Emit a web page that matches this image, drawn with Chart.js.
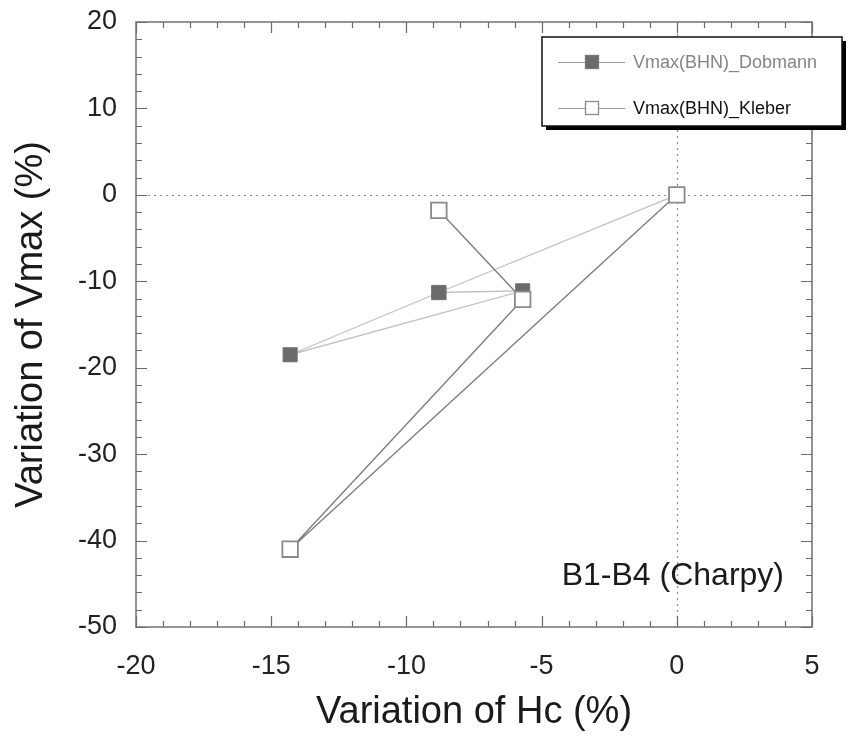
<!DOCTYPE html>
<html>
<head>
<meta charset="utf-8">
<script src="https://cdn.jsdelivr.net/npm/chart.js@4/dist/chart.umd.min.js"></script>
<style>
  html, body { margin: 0; padding: 0; background: #ffffff; }
  #c { display: block; }
</style>
</head>
<body>
<canvas id="c" width="849" height="741"></canvas>
<script>
// ---- data ----
const seriesNames = ['Vmax(BHN)_Dobmann', 'Vmax(BHN)_Kleber'];
const dobmannHc   = [0, -8.8, -14.3, -5.7, -8.8];
const dobmannVmax = [0, -11.3, -18.5, -11.1, -11.3];
const kleberHc    = [-8.8, -5.7, -14.3, 0];
const kleberVmax  = [-1.8, -12.1, -41.0, 0];
const xTickValues = [-20, -15, -10, -5, 0, 5];
const yTickValues = [20, 10, 0, -10, -20, -30, -40, -50];
const xTitle = 'Variation of Hc (%)';
const yTitle = 'Variation of Vmax (%)';
const annotationText = 'B1-B4 (Charpy)';

const toPts = (xs, ys) => xs.map((x, i) => ({ x: x, y: ys[i] }));
const FONT = "'Liberation Sans', Arial, Helvetica, sans-serif";

const framePlugin = {
  id: 'frame',
  beforeDatasetsDraw(chart) {
    const { ctx, chartArea: a, scales: { x, y } } = chart;
    ctx.save();
    ctx.strokeStyle = '#8a8a8a';
    ctx.lineWidth = 1.2;
    ctx.setLineDash([2, 4]);
    const x0 = Math.round(x.getPixelForValue(0)) + 0.5;
    const y0 = Math.round(y.getPixelForValue(0)) + 0.5;
    ctx.beginPath();
    ctx.moveTo(a.left, y0); ctx.lineTo(a.right, y0);
    ctx.moveTo(x0, a.top); ctx.lineTo(x0, a.bottom);
    ctx.stroke();
    ctx.setLineDash([]);

    // annotation text
    ctx.fillStyle = '#1a1a1a';
    ctx.font = '32px ' + FONT;
    ctx.textAlign = 'right';
    ctx.textBaseline = 'alphabetic';
    ctx.fillText(annotationText, 784, 585);
    ctx.restore();
  },
  afterDraw(chart) {
    const { ctx, chartArea: a, scales: { x, y } } = chart;
    ctx.save();
    // inward tick marks
    ctx.strokeStyle = '#6a6a6a';
    ctx.lineWidth = 1.2;
    ctx.beginPath();
    for (let v = x.min; v <= x.max + 1e-9; v += 1) {
      const px = Math.round(x.getPixelForValue(v)) + 0.5;
      const len = (Math.round(v) % 5 === 0) ? 11 : 6;
      ctx.moveTo(px, a.bottom); ctx.lineTo(px, a.bottom - len);
      ctx.moveTo(px, a.top); ctx.lineTo(px, a.top + len);
    }
    for (let v = y.min; v <= y.max + 1e-9; v += 2) {
      const py = Math.round(y.getPixelForValue(v)) + 0.5;
      const len = (Math.round(v) % 10 === 0) ? 11 : 6;
      ctx.moveTo(a.left, py); ctx.lineTo(a.left + len, py);
      ctx.moveTo(a.right, py); ctx.lineTo(a.right - len, py);
    }
    ctx.stroke();
    // frame
    ctx.strokeStyle = '#707070';
    ctx.lineWidth = 1.5;
    ctx.strokeRect(a.left, a.top, a.right - a.left, a.bottom - a.top);

    // legend box with shadow
    const lx = 542, ly = 37, lw = 300, lh = 89;
    ctx.fillStyle = '#000';
    ctx.fillRect(lx + 4, ly + 4, lw, lh);
    ctx.fillStyle = '#fff';
    ctx.fillRect(lx, ly, lw, lh);
    ctx.strokeStyle = '#111';
    ctx.lineWidth = 1.5;
    ctx.strokeRect(lx, ly, lw, lh);

    const rows = [
      { y: 62, fill: '#6b6b6b', stroke: '#777', text: '#858585', label: seriesNames[0] },
      { y: 108, fill: '#ffffff', stroke: '#8a8a8a', text: '#111111', label: seriesNames[1] }
    ];
    rows.forEach(r => {
      ctx.strokeStyle = '#9a9a9a';
      ctx.lineWidth = 1.2;
      ctx.beginPath();
      ctx.moveTo(558, r.y + 0.5); ctx.lineTo(625, r.y + 0.5);
      ctx.stroke();
      ctx.fillStyle = r.fill;
      ctx.fillRect(585.5, r.y - 6.5, 13, 13);
      ctx.strokeStyle = r.stroke;
      ctx.lineWidth = 1.3;
      ctx.strokeRect(585.5, r.y - 6.5, 13, 13);
      ctx.fillStyle = r.text;
      ctx.font = '18px ' + FONT;
      ctx.textAlign = 'left';
      ctx.textBaseline = 'middle';
      ctx.fillText(r.label, 633, r.y + 1);
    });
    ctx.restore();
  }
};

new Chart(document.getElementById('c'), {
  type: 'scatter',
  data: {
    datasets: [
      {
        label: seriesNames[0],
        data: toPts(dobmannHc, dobmannVmax),
        showLine: true,
        borderColor: '#c2c2c2',
        borderWidth: 1.3,
        pointStyle: 'rect',
        pointRadius: 10,
        pointBackgroundColor: '#6b6b6b',
        pointBorderColor: '#777777',
        pointBorderWidth: 1,
        order: 2
      },
      {
        label: seriesNames[1],
        data: toPts(kleberHc, kleberVmax),
        showLine: true,
        borderColor: '#7e7e7e',
        borderWidth: 1.4,
        pointStyle: 'rect',
        pointRadius: 11,
        pointBackgroundColor: '#ffffff',
        pointBorderColor: '#8a8a8a',
        pointBorderWidth: 1.8,
        order: 1
      }
    ]
  },
  options: {
    responsive: false,
    animation: false,
    devicePixelRatio: 1,
    layout: { padding: { left: 0, top: 22, right: 37, bottom: 0 } },
    plugins: { legend: { display: false }, tooltip: { enabled: false } },
    scales: {
      x: {
        type: 'linear',
        min: -20, max: 5,
        grid: { display: false, drawTicks: false },
        border: { display: false },
        afterBuildTicks: s => { s.ticks = xTickValues.map(v => ({ value: v })); },
        afterFit: s => { s.height = 114; s.paddingLeft = 0; s.paddingRight = 0; },
        ticks: {
          font: { family: FONT, size: 27 },
          color: '#222',
          padding: 23,
          maxRotation: 0,
          autoSkip: false
        },
        title: {
          display: true,
          text: xTitle,
          color: '#1a1a1a',
          font: { family: FONT, size: 38 },
          padding: { top: 0, bottom: 6 }
        }
      },
      y: {
        type: 'linear',
        min: -50, max: 20,
        grid: { display: false, drawTicks: false },
        border: { display: false },
        afterBuildTicks: s => { s.ticks = yTickValues.map(v => ({ value: v })); },
        afterFit: s => { s.width = 136; s.paddingTop = 0; s.paddingBottom = 0; },
        ticks: {
          font: { family: FONT, size: 27 },
          color: '#222',
          padding: 19,
          autoSkip: false
        },
        title: {
          display: true,
          text: yTitle,
          color: '#1a1a1a',
          font: { family: FONT, size: 38 },
          padding: { top: 9, bottom: 0 }
        }
      }
    }
  },
  plugins: [framePlugin]
});
</script>
</body>
</html>
